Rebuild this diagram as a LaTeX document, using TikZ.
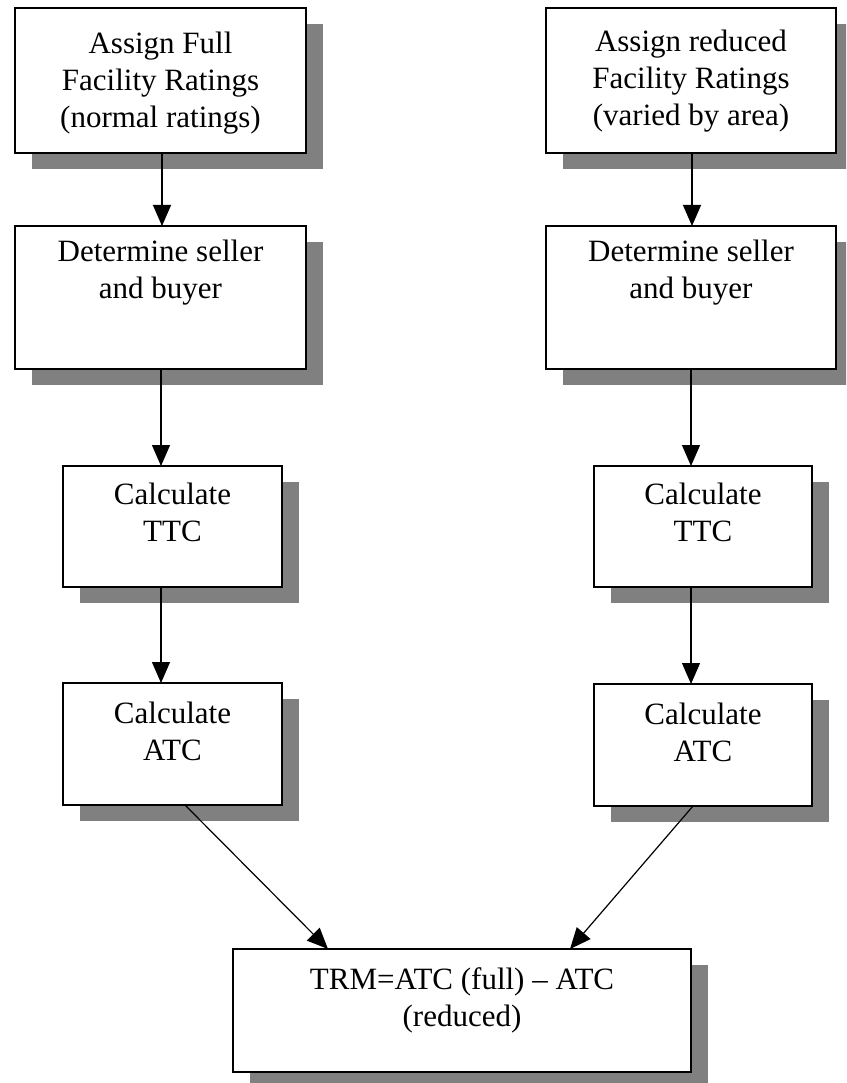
\documentclass[tikz,border=0pt]{standalone}
\usepackage{fontspec}
\setmainfont{Liberation Serif}
\usetikzlibrary{arrows.meta}
\definecolor{shadowgray}{RGB}{128,128,128}
\newcommand\flowbox[5]{%
  \fill[shadowgray] (#2+17,#3+16) rectangle (#4+17,#5+16);
  \node[box,minimum width={#4-#2},minimum height={#5-#3}] (#1) at ({(#2+#4)/2},{(#3+#5)/2}) {};
}
\begin{document}
\begin{tikzpicture}[x=1pt,y=-1pt,
  box/.style={draw=black,line width=1.3pt,fill=white,inner sep=0pt,outer sep=0pt},
  lbl/.style={font=\fontsize{31}{37}\selectfont,align=center,inner sep=0pt,anchor=north},
  arr/.style={line width=1.2pt,-{Triangle[length=21pt,width=18pt]}}]
\useasboundingbox (0,0) rectangle (846,1083);
\clip (0,0) rectangle (846,1083);
\fill[white] (0,0) rectangle (846,1083);

\flowbox{A1}{15}{8}{306}{153}
\flowbox{A2}{546}{8}{836}{153}
\flowbox{B1}{15}{226}{306}{369}
\flowbox{B2}{546}{226}{836}{369}
\flowbox{C1}{63}{466}{282}{587}
\flowbox{C2}{594}{466}{812}{587}
\flowbox{D1}{63}{683}{282}{805}
\flowbox{D2}{594}{684}{812}{806}
\flowbox{E}{233}{949}{691}{1072}

\node[lbl] (A1t) at ([yshift=-24pt]A1.north) {Assign Full\\Facility Ratings\\(normal ratings)};
\node[lbl] (A2t) at ([yshift=-22pt]A2.north) {Assign reduced\\Facility Ratings\\(varied by area)};
\node[lbl] (B1t) at ([yshift=-14pt]B1.north) {Determine seller\\and buyer};
\node[lbl] (B2t) at ([yshift=-14pt]B2.north) {Determine seller\\and buyer};
\node[lbl] (C1t) at ([yshift=-17pt]C1.north) {Calculate\\TTC};
\node[lbl] (C2t) at ([yshift=-17pt]C2.north) {Calculate\\TTC};
\node[lbl] (D1t) at ([yshift=-19pt]D1.north) {Calculate\\ATC};
\node[lbl] (D2t) at ([yshift=-19pt]D2.north) {Calculate\\ATC};
\node[lbl] (Et) at ([yshift=-18pt]E.north) {TRM=ATC (full) – ATC\\(reduced)};

\coordinate (xA) at (162,0);
\coordinate (xL) at (161,0);
\coordinate (xR) at (691,0);
\coordinate (xRA) at (692,0);
\coordinate (dLs) at (185,0);
\coordinate (dLe) at (328,0);
\coordinate (dRs) at (693,0);
\coordinate (dRe) at (570,0);

\draw[arr] (A1.south -| xA) -- (B1.north -| xA);
\draw[arr] (B1.south -| xL) -- (C1.north -| xL);
\draw[arr] (C1.south -| xL) -- (D1.north -| xL);
\draw[arr] (A2.south -| xRA) -- (B2.north -| xRA);
\draw[arr] (B2.south -| xR) -- (C2.north -| xR);
\draw[arr] (C2.south -| xR) -- (D2.north -| xR);
\draw[arr] (D1.south -| dLs) -- (E.north -| dLe);
\draw[arr] (D2.south -| dRs) -- (E.north -| dRe);
\end{tikzpicture}
\end{document}
